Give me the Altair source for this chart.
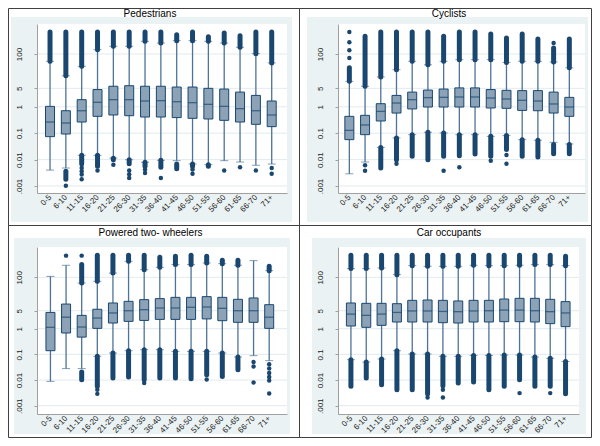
import math
import altair as alt
import pandas as pd

# ---------------- data ----------------
CATS = ["0-5", "6-10", "11-15", "16-20", "21-25", "26-30", "31-35", "36-40",
        "41-45", "46-50", "51-55", "56-60", "61-65", "66-70", "71+"]
TICK_VALUES = [0.001, 0.01, 0.1, 1, 5, 100]
TICK_LABELS = [".001", "0.01", "0.1", "1", "5", "100"]
TITLES = ["Pedestrians", "Cyclists", "Powered two- wheelers", "Car occupants"]

# Pedestrians
ped_q1 = [0.074, 0.093, 0.265, 0.435, 0.49, 0.46, 0.41, 0.41, 0.39, 0.366, 0.345, 0.307, 0.265, 0.217, 0.177]
ped_med = [0.265, 0.243, 0.71, 1.48, 1.86, 1.86, 1.66, 1.71, 1.56, 1.43, 1.24, 1.04, 0.85, 0.71, 0.49]
ped_q3 = [1.04, 0.71, 1.86, 4.5, 6.0, 6.3, 6.0, 6.0, 5.6, 5.6, 5.0, 4.7, 3.6, 2.7, 1.66]
ped_wlo = [0.0040, 0.0048, 0.0145, 0.0145, 0.0115, 0.0099, 0.0079, 0.0094, 0.0091, 0.0068, 0.0064, 0.0091, 0.0081, 0.0061, 0.0068]
ped_whi = [53, 15, 34, 146, 195, 195, 302, 261, 320, 320, 302, 261, 179, 103, 46]
ped_up_top = [681, 681, 681, 681, 681, 681, 681, 681, 540, 681, 454, 624, 495, 681, 681]
ped_lb_hi = [None, 0.0036, 0.0145, 0.0145, 0.0112, 0.0099, 0.0079, 0.0094, 0.0068, 0.0068, 0.0064, None, None, None, None]
ped_lb_lo = [None, 0.0018, 0.0074, 0.0056, 0.0099, 0.0070, 0.0056, 0.0051, 0.0045, 0.0056, 0.0056, None, None, None, None]
ped_iso = [[], [0.00103], [0.0064, 0.0048, 0.0036, 0.0027, 0.0018], [0.0039], [0.0064],
           [0.0039, 0.0028, 0.0020], [0.0042, 0.0031], [0.0020], [], [0.0042, 0.0029],
           [], [0.0039], [0.0051], [0.0039], [0.0048, 0.0029]]

# Cyclists
cyc_q1 = [0.057, 0.088, 0.29, 0.58, 0.83, 0.98, 0.98, 0.98, 0.98, 0.90, 0.875, 0.73, 0.71, 0.58, 0.435]
cyc_med = [0.128, 0.205, 0.67, 1.39, 1.86, 2.22, 2.28, 2.35, 2.35, 2.15, 1.97, 1.76, 1.66, 1.28, 0.98]
cyc_q3 = [0.435, 0.475, 1.31, 2.7, 3.6, 4.3, 4.7, 5.2, 5.2, 4.5, 4.2, 4.1, 4.1, 3.6, 2.28]
cyc_wlo = [0.0029, 0.0081, 0.029, 0.066, 0.088, 0.108, 0.102, 0.088, 0.088, 0.076, 0.081, 0.057, 0.054, 0.045, 0.039]
cyc_whi = [9.2, 6.0, 13.5, 25.5, 53, 39, 53, 61, 61, 61, 48, 53, 53, 50, 30]
cyc_up_top = [30, 467, 681, 681, 681, 681, 467, 681, 681, 572, 404, 572, 370, 169, 370]
cyc_lb_hi = [None, None, 0.029, 0.066, 0.088, 0.108, 0.102, 0.088, 0.088, 0.076, 0.081, 0.057, 0.054, 0.037, 0.037]
cyc_lb_lo = [None, None, 0.0048, 0.0099, 0.0133, 0.0099, 0.0133, 0.0141, 0.0163, 0.0133, 0.024, 0.0133, 0.0125, 0.0168, 0.0168]
cyc_iso = [[681, 277, 138, 71], [0.0061, 0.0038], [], [0.0070], [], [], [0.0038], [0.0051],
           [], [0.0091], [0.0149, 0.0070], [], [], [261], []]

# Powered two-wheelers
ptw_q1 = [0.139, 0.68, 0.47, 1.03, 1.66, 1.93, 2.1, 2.3, 2.3, 2.3, 2.4, 2.05, 1.77, 1.77, 1.03]
ptw_med = [1.13, 2.8, 1.16, 2.6, 4.1, 5.0, 5.5, 6.4, 6.4, 6.8, 7.0, 6.2, 5.0, 5.0, 2.8]
ptw_q3 = [4.3, 9.1, 3.3, 5.7, 10, 11.6, 13.5, 14.8, 16.6, 16.6, 17.7, 16.6, 13.9, 15.7, 8.6]
ptw_wlo = [0.0089, 0.028, 0.028, 0.084, 0.113, 0.139, 0.152, 0.152, 0.131, 0.131, 0.131, 0.113, 0.079, 0.089, 0.057]
ptw_whi = [109, 294, 60, 70, 147, 420, 199, 245, 312, 312, 361, 340, 294, 446, 182]
ptw_up_top = [None, None, 312, 720, 720, 720, 720, 601, 658, 720, 658, 459, 459, None, 268]
ptw_lb_hi = [None, None, 0.0205, 0.084, 0.113, 0.139, 0.152, 0.152, 0.131, 0.131, 0.131, 0.113, 0.079, None, None]
ptw_lb_lo = [None, None, 0.0103, 0.0057, 0.0120, 0.0131, 0.0103, 0.0120, 0.0120, 0.0113, 0.0161, 0.0139, 0.025, None, None]
ptw_iso = [[], [698], [698], [0.0042, 0.0029], [], [], [0.0076], [], [], [], [0.0106], [], [],
           [0.050, 0.034, 0.0081], [0.041, 0.028, 0.0187, 0.0131, 0.0097, 0.0030]]

# Car occupants
car_q1 = [1.27, 1.13, 1.35, 1.82, 1.82, 1.82, 1.71, 1.66, 1.82, 1.82, 1.87, 1.87, 1.82, 1.57, 1.20]
car_med = [3.7, 3.3, 3.7, 4.3, 4.9, 4.9, 4.7, 4.6, 4.9, 5.0, 5.3, 5.3, 5.0, 4.6, 4.1]
car_q3 = [10, 9.7, 9.7, 9.4, 12.7, 13.1, 12.7, 12.0, 12.7, 12.7, 14.3, 15.2, 15.2, 13.9, 11.3]
car_wlo = [0.062, 0.050, 0.066, 0.139, 0.103, 0.103, 0.084, 0.084, 0.091, 0.091, 0.094, 0.094, 0.079, 0.070, 0.053]
car_whi = [218, 218, 231, 127, 285, 268, 268, 268, 294, 285, 285, 294, 312, 312, 285]
car_up_top = [720, 720, 720, 720, 720, 720, 720, 720, 720, 720, 720, 720, 720, 720, 658]
car_lb_hi = [0.062, 0.050, 0.066, 0.139, 0.103, 0.103, 0.084, 0.084, 0.091, 0.091, 0.094, 0.094, 0.079, 0.070, 0.053]
car_lb_lo = [0.0057, 0.0120, 0.0066, 0.0042, 0.0042, 0.0029, 0.0060, 0.0076, 0.0084, 0.0042, 0.0057, 0.0103, 0.0057, 0.0057, 0.0029]
car_iso = [[], [], [], [], [], [0.0021], [0.0042, 0.0021], [], [], [], [], [0.0031], [], [0.0031], []]

# ---------------- style ----------------
NAVY = "#1a476f"
BOX_FILL = "#8ca3b7"
WHISKER = "#4d7398"
GRID = "#e3eaed"
BLUE_BG = "#eaf2f3"
FRAME = "#404040"
AXIS = "#a0a0a0"
FONT = "Liberation Sans"

parts = [f"datum.value < {math.sqrt(a * b):.6g} ? '{lab}'"
         for a, b, lab in zip(TICK_VALUES, TICK_VALUES[1:], TICK_LABELS)]
LABEL_EXPR = " : ".join(parts) + f" : '{TICK_LABELS[-1]}'"


def panel(title, q1, med, q3, wlo, whi, up_top, lb_lo, lb_hi, iso,
          W, H, ydom, xpad, xalign, frame, blue, tpos):
    box = pd.DataFrame(dict(cat=CATS, q1=q1, med=med, q3=q3, wlo=wlo, whi=whi))
    up = pd.DataFrame([dict(cat=c, lo=l, hi=h) for c, l, h in zip(CATS, whi, up_top) if h is not None])
    low = pd.DataFrame([dict(cat=c, lo=l, hi=h) for c, l, h in zip(CATS, lb_lo, lb_hi) if h is not None])
    pts = pd.DataFrame([dict(cat=c, v=v) for c, vs in zip(CATS, iso) for v in vs])
    grid = pd.DataFrame(dict(v=TICK_VALUES))
    one = pd.DataFrame(dict(k=[0]))

    xs = alt.Scale(type="point", domain=CATS, padding=xpad, align=xalign)
    ys = alt.Scale(type="log", domain=ydom, nice=False)
    xaxis = alt.Axis(labelAngle=315, labelAlign="right", labelBaseline="middle",
                     labelPadding=3, ticks=False, tickSize=0, labelFontSize=8,
                     labelFont=FONT, labelColor="#222222", domainColor=AXIS,
                     grid=False, labelOverlap=False, zindex=1)
    yaxis = alt.Axis(values=TICK_VALUES, labelExpr=LABEL_EXPR, labelAngle=270,
                     labelAlign="center", labelBaseline="alphabetic", labelPadding=13,
                     labelFontSize=8, labelFont=FONT, labelColor="#222222",
                     tickSize=3, tickColor=AXIS, domainColor=AXIS, grid=False,
                     labelOverlap=False, zindex=1)

    def X():
        return alt.X("cat:N", scale=xs, axis=xaxis, title=None)

    def Y(f):
        return alt.Y(f"{f}:Q", scale=ys, axis=yaxis, title=None)

    bg = alt.Chart(one).mark_rect(fill=BLUE_BG).encode(
        x=alt.value(blue[0]), x2=alt.value(blue[1]), y=alt.value(blue[2]), y2=alt.value(blue[3]))
    plotbg = alt.Chart(one).mark_rect(fill="white").encode(
        x=alt.value(0), x2=alt.value(W), y=alt.value(0), y2=alt.value(H))
    border = alt.Chart(one).mark_rect(fillOpacity=0, stroke=FRAME, strokeWidth=1).encode(
        x=alt.value(frame[0]), x2=alt.value(frame[1]), y=alt.value(frame[2]), y2=alt.value(frame[3]))
    ttl = alt.Chart(one).mark_text(text=title, font=FONT, fontSize=10, color="black",
                                   align="center", baseline="alphabetic").encode(
        x=alt.value(tpos[0]), y=alt.value(tpos[1]))
    gridl = alt.Chart(grid).mark_rule(color=GRID, strokeWidth=1).encode(y=Y("v"))
    whisk = alt.Chart(box).mark_rule(color=WHISKER, strokeWidth=1.3).encode(
        x=X(), y=Y("wlo"), y2="whi:Q")
    cap_lo = alt.Chart(box).mark_tick(color=WHISKER, size=8, thickness=1).encode(x=X(), y=Y("wlo"))
    cap_hi = alt.Chart(box).mark_tick(color=WHISKER, size=8, thickness=1).encode(x=X(), y=Y("whi"))
    upb = alt.Chart(up).mark_rule(color=NAVY, strokeWidth=5, strokeCap="round").encode(
        x=X(), y=Y("lo"), y2="hi:Q")
    lowb = alt.Chart(low).mark_rule(color=NAVY, strokeWidth=5, strokeCap="round").encode(
        x=X(), y=Y("lo"), y2="hi:Q")
    dots = alt.Chart(pts).mark_circle(color=NAVY, size=20, opacity=1).encode(x=X(), y=Y("v"))
    boxes = alt.Chart(box).mark_bar(size=9, fill=BOX_FILL, stroke=NAVY, strokeWidth=1).encode(
        x=X(), y=Y("q1"), y2="q3:Q")
    meds = alt.Chart(box).mark_tick(color=NAVY, size=9, thickness=1.3).encode(x=X(), y=Y("med"))

    return alt.layer(bg, plotbg, border, ttl, gridl, whisk, cap_lo, cap_hi, upb, lowb,
                     dots, boxes, meds).properties(width=W, height=H)


TOP_DOM = [0.000543, 1368]
BOT_DOM = [0.000477, 1514]

p1 = panel(TITLES[0], ped_q1, ped_med, ped_q3, ped_wlo, ped_whi, ped_up_top, ped_lb_lo, ped_lb_hi, ped_iso,
           250, 169, TOP_DOM, 0.894, 0.46, (-28.5, 262.5, -15.5, 201.5), (-26, 255, -7, 198), (113, -7))
p2 = panel(TITLES[1], cyc_q1, cyc_med, cyc_q3, cyc_wlo, cyc_whi, cyc_up_top, cyc_lb_lo, cyc_lb_hi, cyc_iso,
           247, 169, TOP_DOM, 0.86, 0.42, (-38.5, 253.5, -15.5, 201.5), (-31, 250, -7, 198), (111, -7))
p3 = panel(TITLES[2], ptw_q1, ptw_med, ptw_q3, ptw_wlo, ptw_whi, ptw_up_top, ptw_lb_lo, ptw_lb_hi, ptw_iso,
           250, 167, BOT_DOM, 1.10, 0.43, (-28.5, 262.5, -21.5, 190.5), (-23, 253, -9, 187), (113.5, -11))
p4 = panel(TITLES[3], car_q1, car_med, car_q3, car_wlo, car_whi, car_up_top, car_lb_lo, car_lb_hi, car_iso,
           241, 167, BOT_DOM, 0.86, 0.49, (-38.5, 253.5, -21.5, 190.5), (-26, 248, -9, 187), (111, -11))

chart = alt.concat(p1, p2, p3, p4, columns=2, spacing={"row": 54, "column": 51},
                   bounds="flush", align="all").properties(padding=0, background="white")
chart = chart.configure_view(stroke=None)

chart.save("out.html", embed_options={"renderer": "svg", "actions": False})
